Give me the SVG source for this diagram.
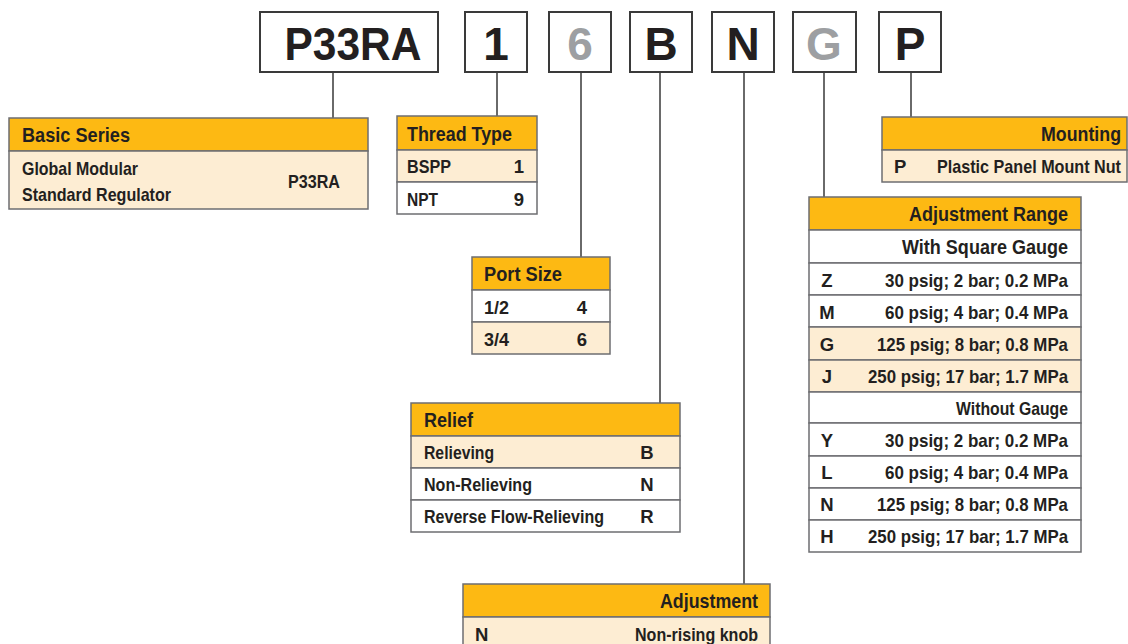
<svg xmlns="http://www.w3.org/2000/svg" width="1128" height="644" viewBox="0 0 1128 644">
<style>
.code{fill:#fff;stroke:#3a3a3a;stroke-width:2}
.ct{font-family:"Liberation Sans",Arial,sans-serif;font-weight:bold;font-size:46px;fill:#231f20;text-anchor:middle}
.gr{fill:#9d9fa2}
.hd{fill:#fdb913;stroke:#6d6e71;stroke-width:1.5}
.lt{fill:#fdedd3;stroke:#6d6e71;stroke-width:1.5}
.wh{fill:#fff;stroke:#6d6e71;stroke-width:1.5}
.ht{font-family:"Liberation Sans",Arial,sans-serif;font-weight:bold;font-size:21px;fill:#231f20}
.t{font-family:"Liberation Sans",Arial,sans-serif;font-weight:bold;font-size:18.5px;fill:#231f20}
.r{text-anchor:end}
.m{text-anchor:middle}
.ln{stroke:#3a3a3a;stroke-width:1.5;fill:none}
</style>
<g id="connectors">
<path class="ln" d="M333 72V118M497 72V116M581 72V257M660 72V403M744 72V584M824 72V197M911 72V117"/>
</g>
<g id="code-P33RA"><rect class="code" x="260" y="12" width="178" height="60"/><text class="ct" x="353" y="60" textLength="137" lengthAdjust="spacingAndGlyphs">P33RA</text></g>
<g id="code-1"><rect class="code" x="465" y="12" width="62" height="60"/><text class="ct" x="496" y="60">1</text></g>
<g id="code-6"><rect class="code" x="549" y="12" width="62" height="60"/><text class="ct gr" x="580" y="60">6</text></g>
<g id="code-B"><rect class="code" x="630" y="12" width="62" height="60"/><text class="ct" x="661" y="60">B</text></g>
<g id="code-N"><rect class="code" x="712" y="12" width="62" height="60"/><text class="ct" x="743" y="60">N</text></g>
<g id="code-G"><rect class="code" x="793" y="12" width="63" height="60"/><text class="ct gr" x="824" y="60">G</text></g>
<g id="code-P"><rect class="code" x="879" y="12" width="62" height="60"/><text class="ct" x="910" y="60">P</text></g>

<g id="basic-series">
<rect class="hd" x="9" y="118" width="359" height="33"/>
<rect class="lt" x="9" y="151" width="359" height="58"/>
<text class="ht" x="22" y="142" textLength="108" lengthAdjust="spacingAndGlyphs">Basic Series</text>
<text class="t" x="22" y="175" textLength="116" lengthAdjust="spacingAndGlyphs">Global Modular</text>
<text class="t" x="22" y="201" textLength="149" lengthAdjust="spacingAndGlyphs">Standard Regulator</text>
<text class="t" x="288" y="188" textLength="52" lengthAdjust="spacingAndGlyphs">P33RA</text>
</g>

<g id="thread-type">
<rect class="hd" x="397" y="116" width="140" height="34"/>
<rect class="lt" x="397" y="150" width="140" height="32"/>
<rect class="wh" x="397" y="182" width="140" height="32"/>
<text class="ht" x="407" y="141" textLength="105" lengthAdjust="spacingAndGlyphs">Thread Type</text>
<text class="t" x="407" y="173" textLength="44" lengthAdjust="spacingAndGlyphs">BSPP</text><text class="t r" x="524" y="173">1</text>
<text class="t" x="407" y="206" textLength="31" lengthAdjust="spacingAndGlyphs">NPT</text><text class="t r" x="524" y="206">9</text>
</g>

<g id="port-size">
<rect class="hd" x="472" y="257" width="138" height="33"/>
<rect class="wh" x="472" y="290" width="138" height="32"/>
<rect class="lt" x="472" y="322" width="138" height="32"/>
<text class="ht" x="484" y="281" textLength="78" lengthAdjust="spacingAndGlyphs">Port Size</text>
<text class="t" x="484" y="314" textLength="25" lengthAdjust="spacingAndGlyphs">1/2</text><text class="t m" x="582" y="314">4</text>
<text class="t" x="484" y="346" textLength="25" lengthAdjust="spacingAndGlyphs">3/4</text><text class="t m" x="582" y="346">6</text>
</g>

<g id="relief">
<rect class="hd" x="411" y="403" width="269" height="33"/>
<rect class="lt" x="411" y="436" width="269" height="32"/>
<rect class="wh" x="411" y="468" width="269" height="32"/>
<rect class="wh" x="411" y="500" width="269" height="32"/>
<text class="ht" x="424" y="427" textLength="49" lengthAdjust="spacingAndGlyphs">Relief</text>
<text class="t" x="424" y="459" textLength="70" lengthAdjust="spacingAndGlyphs">Relieving</text><text class="t m" x="647" y="459">B</text>
<text class="t" x="424" y="491" textLength="108" lengthAdjust="spacingAndGlyphs">Non-Relieving</text><text class="t m" x="647" y="491">N</text>
<text class="t" x="424" y="523" textLength="180" lengthAdjust="spacingAndGlyphs">Reverse Flow-Relieving</text><text class="t m" x="647" y="523">R</text>
</g>

<g id="adjustment">
<rect class="hd" x="463" y="584" width="307" height="33"/>
<rect class="lt" x="463" y="617" width="307" height="34"/>
<text class="ht" x="660" y="608" textLength="98" lengthAdjust="spacingAndGlyphs">Adjustment</text>
<text class="t" x="475" y="641">N</text>
<text class="t" x="635" y="641" textLength="123" lengthAdjust="spacingAndGlyphs">Non-rising knob</text>
</g>

<g id="adjustment-range">
<rect class="hd" x="809" y="197" width="272" height="33"/>
<rect class="wh" x="809" y="230" width="272" height="33"/>
<rect class="wh" x="809" y="263" width="272" height="32"/>
<rect class="wh" x="809" y="295" width="272" height="32"/>
<rect class="lt" x="809" y="327" width="272" height="33"/>
<rect class="lt" x="809" y="360" width="272" height="32"/>
<rect class="wh" x="809" y="392" width="272" height="31"/>
<rect class="wh" x="809" y="423" width="272" height="33"/>
<rect class="wh" x="809" y="456" width="272" height="32"/>
<rect class="wh" x="809" y="488" width="272" height="32"/>
<rect class="wh" x="809" y="520" width="272" height="32"/>
<text class="ht" x="909" y="221" textLength="159" lengthAdjust="spacingAndGlyphs">Adjustment Range</text>
<text class="ht" x="902" y="254" textLength="166" lengthAdjust="spacingAndGlyphs">With Square Gauge</text>
<text class="t m" x="827" y="287">Z</text><text class="t" x="885" y="287" textLength="183" lengthAdjust="spacingAndGlyphs">30 psig; 2 bar; 0.2 MPa</text>
<text class="t m" x="827" y="319">M</text><text class="t" x="885" y="319" textLength="183" lengthAdjust="spacingAndGlyphs">60 psig; 4 bar; 0.4 MPa</text>
<text class="t m" x="827" y="351">G</text><text class="t" x="877" y="351" textLength="191" lengthAdjust="spacingAndGlyphs">125 psig; 8 bar; 0.8 MPa</text>
<text class="t m" x="827" y="383">J</text><text class="t" x="868" y="383" textLength="200" lengthAdjust="spacingAndGlyphs">250 psig; 17 bar; 1.7 MPa</text>
<text class="t" x="956" y="415" textLength="112" lengthAdjust="spacingAndGlyphs">Without Gauge</text>
<text class="t m" x="827" y="447">Y</text><text class="t" x="885" y="447" textLength="183" lengthAdjust="spacingAndGlyphs">30 psig; 2 bar; 0.2 MPa</text>
<text class="t m" x="827" y="479">L</text><text class="t" x="885" y="479" textLength="183" lengthAdjust="spacingAndGlyphs">60 psig; 4 bar; 0.4 MPa</text>
<text class="t m" x="827" y="511">N</text><text class="t" x="877" y="511" textLength="191" lengthAdjust="spacingAndGlyphs">125 psig; 8 bar; 0.8 MPa</text>
<text class="t m" x="827" y="543">H</text><text class="t" x="868" y="543" textLength="200" lengthAdjust="spacingAndGlyphs">250 psig; 17 bar; 1.7 MPa</text>
</g>

<g id="mounting">
<rect class="hd" x="882" y="117" width="245" height="33"/>
<rect class="lt" x="882" y="150" width="245" height="32"/>
<text class="ht r" x="1121" y="141" textLength="80" lengthAdjust="spacingAndGlyphs">Mounting</text>
<text class="t" x="894" y="173">P</text>
<text class="t r" x="1121" y="173" textLength="184" lengthAdjust="spacingAndGlyphs">Plastic Panel Mount Nut</text>
</g>
</svg>
